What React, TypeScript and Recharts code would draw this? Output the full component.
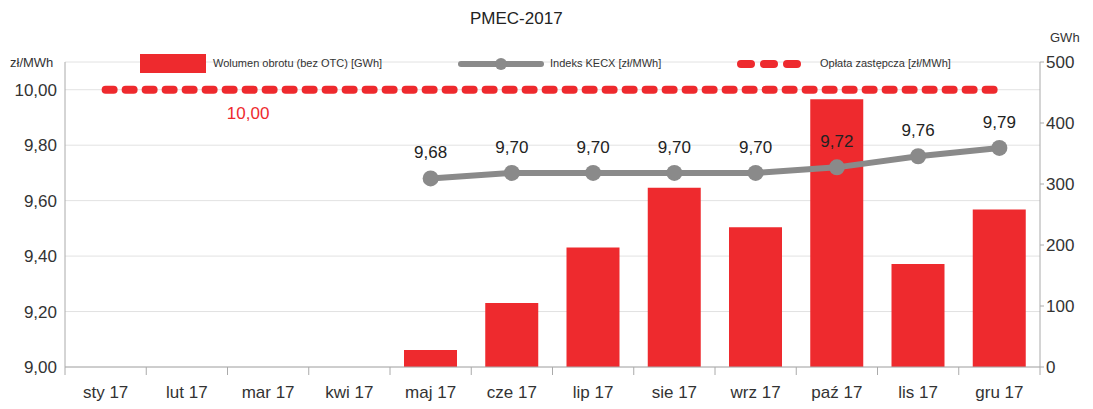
import { ComposedChart, Bar, Line, XAxis, YAxis, CartesianGrid, Legend, LabelList } from 'recharts';

const months = ['sty 17', 'lut 17', 'mar 17', 'kwi 17', 'maj 17', 'cze 17', 'lip 17', 'sie 17', 'wrz 17', 'paź 17', 'lis 17', 'gru 17'];
// Wolumen obrotu (bez OTC) [GWh]
const volume = [null, null, null, null, 28, 105, 196, 294, 229, 439, 169, 258];
// Indeks KECX [zł/MWh]
const kecx = [null, null, null, null, 9.68, 9.7, 9.7, 9.7, 9.7, 9.72, 9.76, 9.79];
// Opłata zastępcza [zł/MWh]
const oplata = [10, 10, 10, 10, 10, 10, 10, 10, 10, 10, 10, 10];
const leftTicks = [9, 9.2, 9.4, 9.6, 9.8, 10];
const rightTicks = [0, 100, 200, 300, 400, 500];

const data = months.map((m, i) => ({ month: m, volume: volume[i], kecx: kecx[i], oplata: oplata[i] }));

const FONT = '"Liberation Sans", Arial, sans-serif';
const RED = '#ee2a2e';
const GRAY = '#8a8a8a';
const BAND = 975 / 12;

const fmt = (v: number) => v.toFixed(2).replace('.', ',');

const XTick = (props: any) => {
  const { x, y, payload, index } = props;
  return (
    <g>
      <line x1={x - BAND / 2} x2={x - BAND / 2} y1={y - 8} y2={y} stroke="#aaa" />
      {index === months.length - 1 && (
        <line x1={x + BAND / 2} x2={x + BAND / 2} y1={y - 8} y2={y} stroke="#aaa" />
      )}
      <text x={x} y={y + 23} textAnchor="middle" fill="#333" fontSize={17} fontFamily={FONT}>
        {payload.value}
      </text>
    </g>
  );
};

const OplataLabel = (props: any) => {
  const { x, y, index } = props;
  if (index !== 2) return null;
  return (
    <text x={x - 20} y={y + 29} textAnchor="middle" fill={RED} fontSize={17} fontFamily={FONT}>
      10,00
    </text>
  );
};

const renderLegend = () => (
  <div style={{ position: 'relative', width: 1080, height: 30, fontFamily: FONT, color: '#333' }}>
    <div style={{ position: 'absolute', left: 2, top: 5, fontSize: 13 }}>zł/MWh</div>
    <div style={{ position: 'absolute', left: 132, top: 4, width: 66, height: 19, background: RED }} />
    <div style={{ position: 'absolute', left: 205, top: 7, fontSize: 11 }}>Wolumen obrotu (bez OTC) [GWh]</div>
    <svg style={{ position: 'absolute', left: 450, top: 1 }} width={86} height={26}>
      <line x1={3} x2={83} y1={13} y2={13} stroke={GRAY} strokeWidth={6} strokeLinecap="round" />
      <circle cx={43} cy={13} r={6} fill={GRAY} />
    </svg>
    <div style={{ position: 'absolute', left: 542, top: 7, fontSize: 11 }}>Indeks KECX [zł/MWh]</div>
    <svg style={{ position: 'absolute', left: 728, top: 1 }} width={72} height={26}>
      <line x1={5} x2={68} y1={13} y2={13} stroke={RED} strokeWidth={8} strokeDasharray="10 13" strokeLinecap="round" />
    </svg>
    <div style={{ position: 'absolute', left: 812, top: 7, fontSize: 11 }}>Opłata zastępcza [zł/MWh]</div>
  </div>
);

export default function App() {
  return (
    <div style={{ position: 'relative', width: 1080, height: 400, fontFamily: FONT }}>
      <div style={{ position: 'absolute', left: 462, top: 1, fontSize: 17, color: '#222' }}>PMEC-2017</div>
      <div style={{ position: 'absolute', left: 1042, top: 22, fontSize: 13, color: '#333' }}>GWh</div>
      <ComposedChart width={1080} height={400} data={data} margin={{ top: 54, right: 3, bottom: 11, left: 7 }}>
        <CartesianGrid yAxisId="left" vertical={false} stroke="#e2e2e2" />
        <XAxis dataKey="month" tick={<XTick />} tickLine={false} axisLine={{ stroke: '#aaa' }} height={30} interval={0} />
        <YAxis
          yAxisId="left"
          domain={[9, 10.1]}
          ticks={leftTicks}
          tickFormatter={fmt}
          width={50}
          tickLine={false}
          axisLine={{ stroke: '#aaa' }}
          tick={{ fill: '#333', fontSize: 17, fontFamily: FONT }}
          allowDataOverflow
        />
        <YAxis
          yAxisId="right"
          orientation="right"
          domain={[0, 500]}
          ticks={rightTicks}
          width={45}
          axisLine={{ stroke: '#aaa' }}
          tickLine={{ stroke: '#aaa' }}
          tickSize={4}
          tick={{ fill: '#333', fontSize: 17, fontFamily: FONT }}
        />
        <Legend verticalAlign="middle" content={renderLegend} wrapperStyle={{ top: 42, left: 0, width: 1080, height: 30 }} />
        <Bar yAxisId="right" dataKey="volume" name="Wolumen obrotu (bez OTC) [GWh]" fill={RED} barSize={53} isAnimationActive={false} />
        <Line
          yAxisId="left"
          dataKey="oplata"
          name="Opłata zastępcza [zł/MWh]"
          stroke={RED}
          strokeWidth={8}
          strokeDasharray="8 12"
          strokeLinecap="round"
          dot={false}
          activeDot={false}
          isAnimationActive={false}
        >
          <LabelList dataKey="oplata" content={<OplataLabel />} />
        </Line>
        <Line
          yAxisId="left"
          dataKey="kecx"
          name="Indeks KECX [zł/MWh]"
          stroke={GRAY}
          strokeWidth={6}
          dot={{ r: 8, fill: GRAY, stroke: GRAY, strokeWidth: 0 }}
          activeDot={false}
          isAnimationActive={false}
        >
          <LabelList dataKey="kecx" position="top" offset={20} formatter={(v: any) => (v == null ? '' : fmt(Number(v)))} fill="#222" fontSize={17} fontFamily={FONT} />
        </Line>
      </ComposedChart>
    </div>
  );
}
